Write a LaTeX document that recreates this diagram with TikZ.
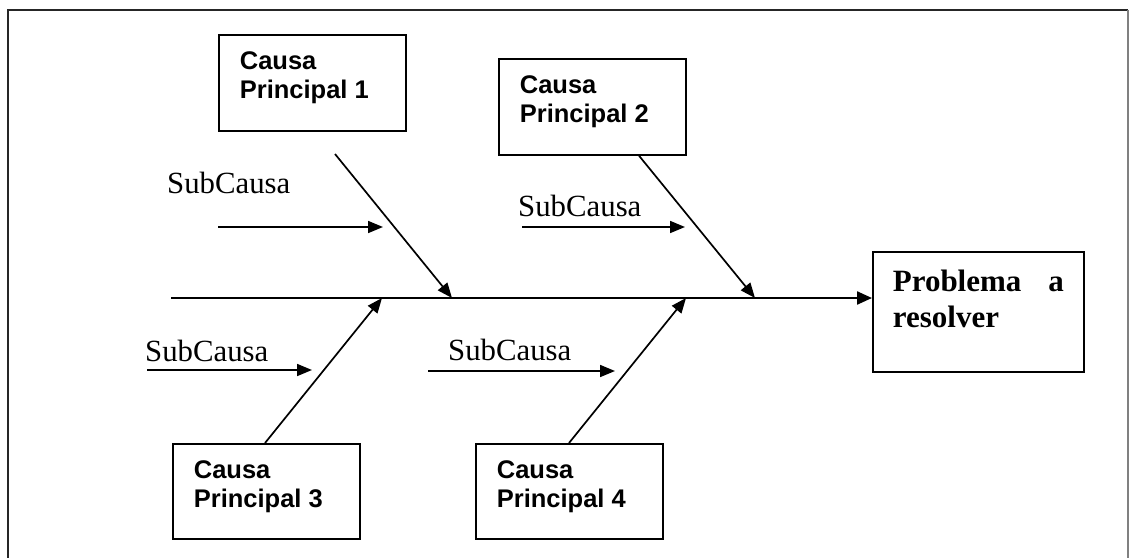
\documentclass[tikz,border=0pt]{standalone}
\usepackage{fontspec}
\setmainfont{Liberation Serif}
\setsansfont{Liberation Sans}
\usetikzlibrary{arrows.meta}
\begin{document}
\begin{tikzpicture}[x=1pt,y=-1pt,
  causebox/.style={draw,line width=1.7pt,anchor=north west,inner xsep=21pt,inner ysep=0pt,
    font=\sffamily\bfseries\fontsize{25.5}{29}\selectfont},
  probbox/.style={draw,line width=1.7pt,anchor=north west,inner xsep=20pt,inner ysep=0pt,
    font=\rmfamily\bfseries\fontsize{31}{36}\selectfont},
  sublabel/.style={anchor=base west,inner sep=0pt,font=\rmfamily\fontsize{30.8}{36}\selectfont},
  arr/.style={line width=1.7pt,-{Triangle[length=15pt,width=12pt]}},
  spine/.style={line width=2.3pt,-{Triangle[length=15pt,width=13pt]}}]
\useasboundingbox (0,0) rectangle (1129,557);

% outer frame (open at the bottom)
\draw[line width=2.2pt,black!85] (8,570) -- (8,10) -- (1128,10);
\draw[line width=2.2pt,black!50] (1128,10) -- (1128,570);

% main causes
\node[causebox] (c1) at (218,34)  {\parbox[c][96pt][t]{145pt}{\rule{0pt}{35pt}Causa\\Principal 1}};
\node[causebox] (c2) at (498,58)  {\parbox[c][96pt][t]{145pt}{\rule{0pt}{35pt}Causa\\Principal 2}};
\node[causebox] (c3) at (172,443) {\parbox[c][95pt][t]{145pt}{\rule{0pt}{35pt}Causa\\Principal 3}};
\node[causebox] (c4) at (475,443) {\parbox[c][95pt][t]{145pt}{\rule{0pt}{35pt}Causa\\Principal 4}};

% effect
\node[probbox] (p) at (872,251) {\parbox[c][120pt][t]{171pt}{\rule{0pt}{40pt}Problema\hfill a\\resolver}};

% spine
\coordinate (sp0) at (171,298);
\draw[spine] (sp0) -- (p.west |- sp0);

% bones: start points and tips on the spine
\coordinate (s1) at (335,154);  \coordinate (t1) at (452,298);
\coordinate (s2) at (c2.south -| 639,0); \coordinate (t2) at (755,298);
\coordinate (s3) at (c3.north -| 265,0); \coordinate (t3) at (382,298);
\coordinate (s4) at (c4.north -| 569,0); \coordinate (t4) at (686,298);
\draw[arr] (s1) -- (t1);
\draw[arr] (s2) -- (t2);
\draw[arr] (s3) -- (t3);
\draw[arr] (s4) -- (t4);

% sub-causes
\node[sublabel] (l1) at (167,193) {SubCausa};
\node[sublabel] (l2) at (518,216) {SubCausa};
\node[sublabel] (l3) at (145,361) {SubCausa};
\node[sublabel] (l4) at (448,360) {SubCausa};

\coordinate (a1) at (218,227); \coordinate (b1) at (383,227);
\coordinate (a2) at (522,227); \coordinate (b2) at (685,227);
\coordinate (a3) at (147,370); \coordinate (b3) at (312,370);
\coordinate (a4) at (428,371); \coordinate (b4) at (615,371);
\draw[arr] (a1) -- (b1);
\draw[arr] (a2) -- (b2);
\draw[arr] (a3) -- (b3);
\draw[arr] (a4) -- (b4);
\end{tikzpicture}
\end{document}
